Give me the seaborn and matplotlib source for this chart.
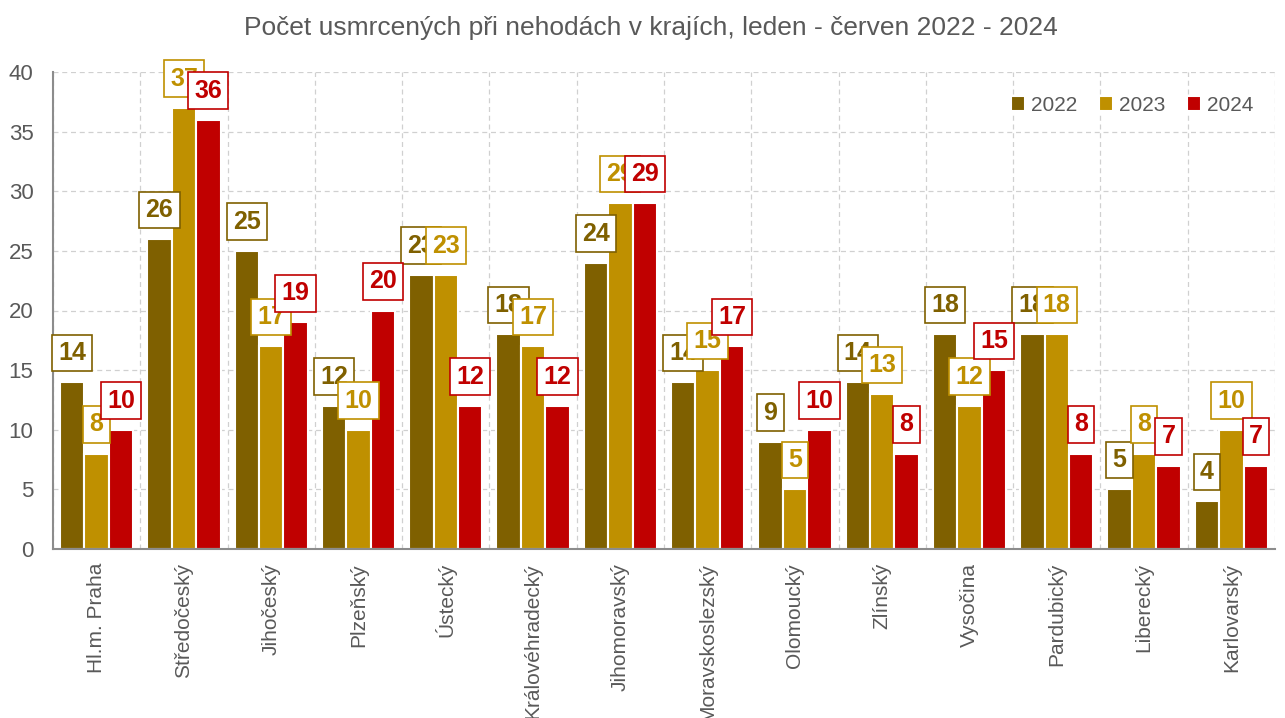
import matplotlib
matplotlib.use("Agg")
import matplotlib.pyplot as plt
import seaborn as sns
import pandas as pd
import numpy as np
from matplotlib.ticker import MultipleLocator, FixedLocator

regions = ["Hl.m. Praha", "Středočeský", "Jihočeský", "Plzeňský", "Ústecký",
           "Královéhradecký", "Jihomoravský", "Moravskoslezský", "Olomoucký",
           "Zlínský", "Vysočina", "Pardubický", "Liberecký", "Karlovarský"]
years = ["2022", "2023", "2024"]
v2022 = [14, 26, 25, 12, 23, 18, 24, 14, 9, 14, 18, 18, 5, 4]
v2023 = [8, 37, 17, 10, 23, 17, 29, 15, 5, 13, 12, 18, 8, 10]
v2024 = [10, 36, 19, 20, 12, 12, 29, 17, 10, 8, 15, 8, 7, 7]
colors = ["#7F6000", "#BF9000", "#C00000"]
title = "Počet usmrcených při nehodách v krajích, leden - červen 2022 - 2024"

df = pd.DataFrame({
    "kraj": regions * 3,
    "rok": [y for y in years for _ in regions],
    "pocet": v2022 + v2023 + v2024,
})

sns.set_theme(style="white")
plt.rcParams["font.family"] = ["Liberation Sans", "DejaVu Sans"]

fig = plt.figure(figsize=(12.85, 7.18), dpi=100)
ax = fig.add_axes([53/1285, (718-549)/718, (1275-53)/1285, (549-72)/718])

sns.barplot(data=df, x="kraj", y="pocet", hue="rok", palette=colors,
            order=regions, hue_order=years, width=0.84, ax=ax,
            edgecolor="white", linewidth=1.5, saturation=1, legend=True)

ax.set_ylim(0, 40)
ax.set_xlim(-0.5, len(regions) - 0.5)
ax.yaxis.set_major_locator(MultipleLocator(5))
ax.xaxis.set_minor_locator(FixedLocator(np.arange(-0.5, len(regions), 1.0)))
ax.grid(axis="y", which="major", color="#D0D0D0", linestyle=(0, (4, 3)), linewidth=0.9)
ax.grid(axis="x", which="minor", color="#D0D0D0", linestyle=(0, (4, 3)), linewidth=0.9)
ax.grid(axis="x", which="major", visible=False)
ax.set_axisbelow(True)
for s in ["top", "right"]:
    ax.spines[s].set_visible(False)
for s in ["left", "bottom"]:
    ax.spines[s].set_color("#8C8C8C")
    ax.spines[s].set_linewidth(1.5)

ax.set_xlabel("")
ax.set_ylabel("")
ax.tick_params(axis="x", which="both", length=0, pad=10, labelsize=15, labelcolor="#595959", labelrotation=90)
ax.tick_params(axis="y", length=0, pad=14, labelsize=16, labelcolor="#595959")

# value labels
for ci, cont in enumerate(ax.containers):
    col = colors[ci]
    for bar in cont:
        h = bar.get_height()
        x = bar.get_x() + bar.get_width() / 2
        ax.annotate(f"{int(h)}", xy=(x, h), xytext=(0, 21), textcoords="offset points",
                    ha="center", va="center", fontsize=18, fontweight="bold", color=col,
                    bbox=dict(boxstyle="square,pad=0.25", fc="white", ec=col, lw=1.2),
                    zorder=5, annotation_clip=False)

leg = ax.legend(loc="upper right", bbox_to_anchor=(0.998, 0.99), ncol=3, frameon=False,
                fontsize=15, handlelength=0.7, handleheight=0.7, handletextpad=0.3,
                columnspacing=1.0, labelcolor="#595959")

fig.suptitle(title, x=651/1285, y=1-28/718, va="center", fontsize=19, color="#595959")

fig.savefig("out.png", dpi=100)
